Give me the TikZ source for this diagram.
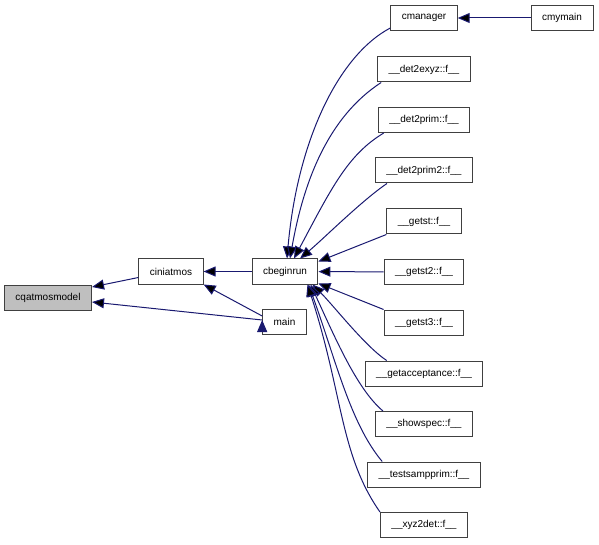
\documentclass[tikz,border=0pt]{standalone}
\usepackage{fontspec}
\setmainfont{Liberation Sans}
\usetikzlibrary{arrows.meta}
\definecolor{navy}{HTML}{191970}
\definecolor{fngray}{HTML}{BFBFBF}

\begin{document}
\begin{tikzpicture}[x=1pt,y=1pt,
    fn/.style={draw=black!75, line width=1pt, fill=white, minimum height=25pt,
      inner xsep=11pt, inner ysep=0pt, font=\fontsize{10}{12}\selectfont},
    call/.style={draw=navy, line width=1pt, -{Triangle[length=12pt,width=10pt]}}]
            \useasboundingbox (0,0) rectangle (599,544);
            \draw (48,246.5) node[fn,fill=fngray] (cqatmosmodel) {cqatmosmodel};
            \draw (171,272.5) node[fn] (ciniatmos) {ciniatmos};
            \draw (285,272.5) node[fn] (cbeginrun) {cbeginrun};
            \draw (284.5,222) node[fn] (main) {main};
            \draw (424,526) node[fn] (cmanager) {cmanager};
            \draw (562,526) node[fn] (cmymain) {cmymain};
            \draw (424,474.5) node[fn] (det2exyz) {\_\_det2exyz::f\_\_};
            \draw (424,424) node[fn] (det2prim) {\_\_det2prim::f\_\_};
            \draw (424,373.5) node[fn] (det2primtwo) {\_\_det2prim2::f\_\_};
            \draw (424,322.5) node[fn] (getst) {\_\_getst::f\_\_};
            \draw (424,272) node[fn] (getsttwo) {\_\_getst2::f\_\_};
            \draw (424,221.5) node[fn] (getstthree) {\_\_getst3::f\_\_};
            \draw (424,170.5) node[fn] (getacceptance) {\_\_getacceptance::f\_\_};
            \draw (424,120) node[fn] (showspec) {\_\_showspec::f\_\_};
            \draw (424,69.5) node[fn] (testsampprim) {\_\_testsampprim::f\_\_};
            \draw (424,19) node[fn] (xyztwodet) {\_\_xyz2det::f\_\_};
            \path[call]
            (cmymain) edge (cmanager)
            ([yshift=3pt]cmanager.south west) edge[out=208,in=85,out distance=60pt,in distance=116pt] ([xshift=2pt]cbeginrun.north)
            ([xshift=4pt]det2exyz.south west) edge[out=213,in=80,out distance=64pt,in distance=77pt] ([xshift=5pt]cbeginrun.north)
            ([xshift=6pt]det2prim.south west) edge[out=211,in=62,out distance=42pt,in distance=80pt] ([xshift=9pt]cbeginrun.north)
            ([xshift=12pt]det2primtwo.south west) edge[out=214,in=40,out distance=30pt,in distance=30pt] ([xshift=15pt]cbeginrun.north)
            (getst.south west) edge ([yshift=-3pt]cbeginrun.north east)
            (getsttwo) edge (cbeginrun)
            (getstthree.north west) edge ([yshift=1pt]cbeginrun.south east)
            ([xshift=22pt]getacceptance.north west) edge[out=147,in=-45,out distance=25pt,in distance=30pt] ([xshift=-6pt]cbeginrun.south east)
            ([xshift=8pt]showspec.north west) edge[out=140,in=-65,out distance=35pt,in distance=55pt] ([xshift=-8pt]cbeginrun.south east)
            ([xshift=15pt]testsampprim.north west) edge[out=130,in=-70,out distance=50pt,in distance=80pt] ([xshift=-10pt]cbeginrun.south east)
            (xyztwodet.north west) edge[out=125,in=-72,out distance=70pt,in distance=115pt] ([xshift=-11pt]cbeginrun.south east)
            (cbeginrun) edge (ciniatmos)
            ([yshift=6pt]main.west) edge (ciniatmos.south east)
            ([yshift=-6pt]ciniatmos.west) edge ([yshift=10.5pt]cqatmosmodel.east)
            ([yshift=2pt]main.west) edge ([yshift=-4.5pt]cqatmosmodel.east);
        \end{tikzpicture}
\end{document}
